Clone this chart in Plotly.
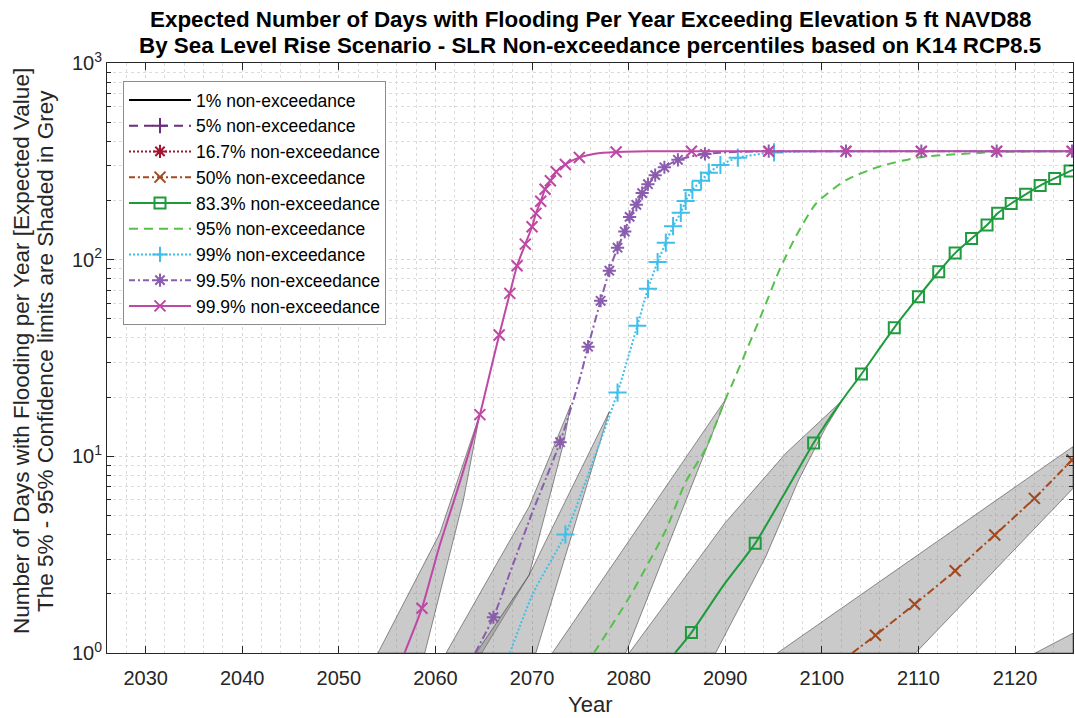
import plotly.graph_objects as go

# ---------------- data ----------------
p999_year = [2056.8, 2058.6, 2060.4, 2062.6, 2064.6, 2065.6, 2066.6, 2067.7, 2068.45, 2069.3, 2070.0, 2070.4,
             2070.9, 2071.35, 2071.9, 2072.5, 2073.45, 2074.9, 2076.5, 2078.7, 2082.0, 2086.5, 2094.5, 2102.5,
             2110.3, 2118.1, 2125.9]
p999_days = [1.0, 1.69, 3.47, 7.58, 16.3, 26.0, 41.4, 67.4, 93.1, 120, 147, 172, 198, 228, 252, 280, 305, 331,
             346, 353, 355.5, 356, 356, 356, 356, 356, 356]
p999_mark = [0, 1, 0, 0, 1, 0, 1, 1, 1, 1, 1, 1, 1, 1, 1, 1, 1, 1, 0, 1, 0, 1, 1, 1, 1, 1, 1]

p995_year = [2064.1, 2066.0, 2068.0, 2070.0, 2072.9, 2074.9, 2075.8, 2077.1, 2078.0, 2078.85, 2079.6, 2080.1,
             2080.8, 2081.4, 2082.0, 2082.75, 2083.7, 2085.1, 2087.9, 2091.0, 2094.5, 2102.5, 2110.3, 2118.1, 2125.9]
p995_days = [1.0, 1.52, 2.8, 5.14, 11.8, 24.4, 36.1, 61.8, 87.9, 115, 139, 165, 190, 218, 242, 269, 295, 322,
             345, 353, 356, 356, 356, 356, 356]
p995_mark = [0, 1, 0, 0, 1, 0, 1, 1, 1, 1, 1, 1, 1, 1, 1, 1, 1, 1, 1, 0, 1, 1, 1, 1, 1]

p99_year = [2067.7, 2070.1, 2073.45, 2076.2, 2078.85, 2080.9, 2082.0, 2083.0, 2083.85, 2084.6, 2085.4, 2085.9,
            2086.6, 2087.5, 2088.3, 2089.5, 2091.3, 2095.05, 2100.0, 2126.0]
p99_days = [1.0, 2.01, 4.01, 9.1, 21.1, 46.1, 71.1, 97.2, 122, 148, 173, 199, 226, 252, 277, 303, 330, 351,
            355.5, 356]
p99_mark = [0, 0, 1, 0, 1, 1, 1, 1, 1, 1, 1, 1, 1, 1, 1, 1, 1, 1, 0, 0]

p95_year = [2076.4, 2080.1, 2083.85, 2085.9, 2088.0, 2090.05, 2090.75, 2093.8, 2095.6, 2097.3, 2099.4, 2102.5,
            2105.9, 2110.0, 2116.2, 2120.0, 2126.0]
p95_days = [1.0, 1.93, 4.22, 7.4, 11.0, 19.7, 23.5, 53.3, 88.5, 131, 193, 254, 297, 331, 349, 355, 356]

p833_year = [2084.8, 2086.5, 2089.8, 2093.1, 2096.0, 2099.15, 2102.1, 2104.1, 2107.5, 2110.0, 2112.1, 2113.8,
             2115.5, 2117.1, 2118.2, 2119.6, 2121.1, 2122.6, 2124.1, 2125.7, 2126.0]
p833_days = [1.0, 1.27, 2.2, 3.61, 6.3, 11.7, 19.3, 26.2, 45.1, 64.8, 86.8, 108, 128, 150, 172, 193, 215, 238,
             259, 282, 286]
p833_mark = [0, 1, 0, 1, 0, 1, 0, 1, 1, 1, 1, 1, 1, 1, 1, 1, 1, 1, 1, 1, 0]

p50_year = [2103.15, 2105.55, 2109.6, 2113.8, 2117.9, 2122.0, 2125.9]
p50_days = [1.0, 1.23, 1.77, 2.62, 3.98, 6.11, 9.58]
p50_mark = [0, 1, 1, 1, 1, 1, 1]

# 5%-95% confidence bands: upper (left) edge and lower (right) edge
b999_up_year = [2054.05, 2060.45, 2064.6]
b999_up_days = [1.0, 4.06, 16.4]
b999_lo_year = [2058.9, 2062.9, 2064.6]
b999_lo_days = [1.0, 6.0, 16.4]

b995_up_year = [2061.1, 2069.7, 2074.0]
b995_up_days = [1.0, 5.55, 18.2]
b995_lo_year = [2064.8, 2069.7, 2073.3, 2074.0]
b995_lo_days = [1.0, 2.49, 11.8, 18.2]

b99_up_year = [2064.2, 2069.7, 2078.0]
b99_up_days = [1.0, 2.49, 16.9]
b99_lo_year = [2070.4, 2074.2, 2078.0]
b99_lo_days = [1.0, 4.07, 16.9]

b95_up_year = [2072.1, 2090.1]
b95_up_days = [1.0, 19.7]
b95_lo_year = [2079.7, 2090.1]
b95_lo_days = [1.0, 19.7]

b833_up_year = [2080.05, 2090.0, 2096.3, 2102.1]
b833_up_days = [1.0, 4.6, 10.4, 19.2]
b833_lo_year = [2089.0, 2094.2, 2097.6, 2100.4, 2102.1]
b833_lo_days = [1.0, 3.09, 7.58, 14.0, 19.2]

b50_up_year = [2095.4, 2126.0]
b50_up_days = [1.0, 11.2]
b50_lo_year = [2109.7, 2126.0]
b50_lo_days = [1.0, 6.87]

b167_up_year = [2122.1, 2126.0]
b167_up_days = [1.0, 1.26]
b167_lo_year = [2126.0]
b167_lo_days = [1.0]

x_ticks = [2030, 2040, 2050, 2060, 2070, 2080, 2090, 2100, 2110, 2120]
y_ticks = [1, 10, 100, 1000]
y_ticklabels = ["10<sup>0</sup>", "10<sup>1</sup>", "10<sup>2</sup>", "10<sup>3</sup>"]

legend_names = ["1% non-exceedance", "5% non-exceedance", "16.7% non-exceedance", "50% non-exceedance",
                "83.3% non-exceedance", "95% non-exceedance", "99% non-exceedance", "99.5% non-exceedance",
                "99.9% non-exceedance"]

title_lines = ["Expected Number of Days with Flooding Per Year Exceeding Elevation 5 ft NAVD88",
               "By Sea Level Rise Scenario - SLR Non-exceedance percentiles based on K14 RCP8.5"]
ylabel_lines = ["Number of Days with Flooding per Year [Expected Value]",
                "The 5% - 95% Confidence limits are Shaded in Grey"]
xlabel = "Year"

# ---------------- styles ----------------
FONT = "Liberation Sans, Arial, Helvetica, sans-serif"
C1 = "#000000"
C5 = "#6A2C7E"
C167 = "#A2142F"
C50 = "#A5481E"
C833 = "#1E9B3C"
C95 = "#55C04A"
C99 = "#3FBFEA"
C995 = "#8A5CAD"
C999 = "#BE48A4"

fig = go.Figure()

# bands
bands = [
    (b999_up_year, b999_up_days, b999_lo_year, b999_lo_days),
    (b995_up_year, b995_up_days, b995_lo_year, b995_lo_days),
    (b99_up_year, b99_up_days, b99_lo_year, b99_lo_days),
    (b95_up_year, b95_up_days, b95_lo_year, b95_lo_days),
    (b833_up_year, b833_up_days, b833_lo_year, b833_lo_days),
    (b50_up_year, b50_up_days, b50_lo_year, b50_lo_days),
    (b167_up_year, b167_up_days, b167_lo_year, b167_lo_days),
]
for uy, ud, ly, ld in bands:
    xs = list(uy) + list(reversed(ly)) + [uy[0]]
    ys = list(ud) + list(reversed(ld)) + [ud[0]]
    fig.add_trace(go.Scatter(x=xs, y=ys, mode="lines", fill="toself",
                             fillcolor="rgba(128,128,128,0.42)",
                             line=dict(color="rgba(20,20,20,0.75)", width=0.6),
                             hoverinfo="skip", showlegend=False))


def add_series(years, days, flags, color, dash, symbol, msize, width=2.0):
    fig.add_trace(go.Scatter(x=years, y=days, mode="lines", showlegend=False,
                             line=dict(color=color, width=width, dash=dash, shape="spline", smoothing=0.6)))
    if flags is not None and symbol is not None:
        mx = [x for x, f in zip(years, flags) if f]
        my = [y for y, f in zip(days, flags) if f]
        fig.add_trace(go.Scatter(x=mx, y=my, mode="markers", showlegend=False,
                                 marker=dict(symbol=symbol, size=msize, color=color,
                                             line=dict(color=color, width=2))))


add_series(p50_year, p50_days, p50_mark, C50, "8px,3px,2px,3px", "x-thin", 11)
add_series(p833_year, p833_days, p833_mark, C833, "solid", "square-open", 11)
add_series(p95_year, p95_days, None, C95, "9px,6px", None, 0)
add_series(p99_year, p99_days, p99_mark, C99, "2px,2px", "cross-thin", 13)
add_series(p995_year, p995_days, p995_mark, C995, "8px,3px,2px,3px", "asterisk", 11)
add_series(p999_year, p999_days, p999_mark, C999, "solid", "x-thin", 11)

# legend entries
leg_styles = [
    (C1, "solid", None),
    (C5, "9px,6px", "cross-thin"),
    (C167, "2px,2px", "asterisk"),
    (C50, "6px,3px,2px,3px", "x-thin"),
    (C833, "solid", "square-open"),
    (C95, "9px,6px", None),
    (C99, "2px,2px", "cross-thin"),
    (C995, "6px,3px,2px,3px", "asterisk"),
    (C999, "solid", "x-thin"),
]
for i, (name, (col, dash, sym)) in enumerate(zip(legend_names, leg_styles)):
    mode = "lines+markers" if sym else "lines"
    fig.add_trace(go.Scatter(x=[None], y=[None], mode=mode, name=name, legendgroup="g%d" % i,
                             line=dict(color=col, width=2, dash=dash),
                             marker=dict(symbol=sym or "circle", size=11, color=col,
                                         line=dict(color=col, width=2))))

axis_common = dict(showline=True, linecolor="#262626", linewidth=1, mirror="ticks",
                   ticks="inside", tickcolor="#262626", ticklen=7,
                   tickfont=dict(family=FONT, size=20, color="#262626"),
                   showgrid=True, gridcolor="#d4d4d4", griddash="dot", gridwidth=1, zeroline=False)

fig.update_xaxes(range=[2026, 2126], tickvals=x_ticks, ticklabelstandoff=7,
                 minor=dict(dtick=2, tick0=2026, showgrid=True, gridcolor="#dcdcdc", griddash="dot", ticks=""),
                 **axis_common)
fig.update_yaxes(type="log", range=[0, 3], tickvals=y_ticks, ticktext=y_ticklabels,
                 minor=dict(dtick="D1", showgrid=True, gridcolor="#dcdcdc", griddash="dot",
                            ticks="inside", ticklen=4, tickcolor="#262626"),
                 **axis_common)

ann = []
for txt, ypx in zip(title_lines, [19, 46]):
    ann.append(dict(text="<b>%s</b>" % txt, xref="paper", yref="paper", x=0.5, y=(653 - ypx) / 590.0,
                    xanchor="center", yanchor="middle", showarrow=False,
                    font=dict(family=FONT, size=22.4, color="#000000")))
for txt, xpx in zip(ylabel_lines, [21, 45]):
    ann.append(dict(text=txt, xref="paper", yref="paper", x=(xpx - 107) / 966.0, y=(653 - 351) / 590.0,
                    xanchor="center", yanchor="middle", textangle=-90, showarrow=False,
                    font=dict(family=FONT, size=22.5, color="#262626")))
ann.append(dict(text=xlabel, xref="paper", yref="paper", x=0.5, y=(653 - 704) / 590.0,
                xanchor="center", yanchor="middle", showarrow=False,
                font=dict(family=FONT, size=22, color="#262626")))

fig.update_layout(
    width=1075, height=718,
    margin=dict(l=107, r=2, t=63, b=65, pad=0),
    paper_bgcolor="white", plot_bgcolor="white",
    annotations=ann,
    showlegend=True,
    legend=dict(x=(123 - 107) / 966.0, y=(653 - 81) / 590.0, xanchor="left", yanchor="top",
                bgcolor="white", bordercolor="#8c8c8c", borderwidth=1,
                font=dict(family=FONT, size=17.5, color="#000000"),
                itemwidth=62, traceorder="normal"),
)

fig.write_html("out.html")
